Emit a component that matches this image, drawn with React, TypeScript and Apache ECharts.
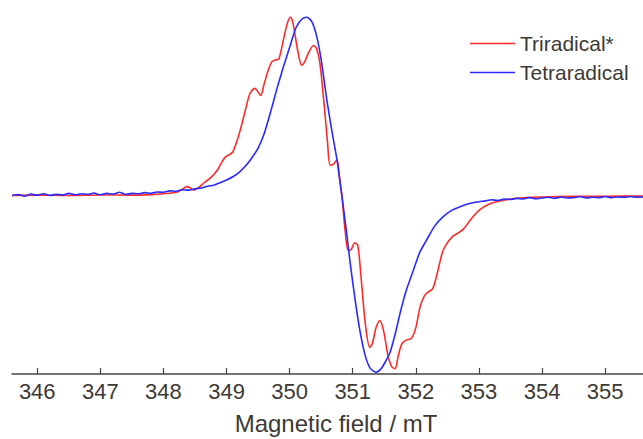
import React, { useEffect, useRef } from "react";
import * as echarts from "echarts";

const tickValues = [346, 347, 348, 349, 350, 351, 352, 353, 354, 355];
const seriesNames = ["Triradical*", "Tetraradical"];
const axisTitle = "Magnetic field / mT";

const redField = [
  345.6, 346.0, 346.5, 347.0, 347.5, 347.8, 348.0, 348.22, 348.3, 348.37, 348.43, 348.48, 348.56, 348.64,
  348.75, 348.85, 348.93, 348.98, 349.05, 349.1, 349.16, 349.22, 349.3, 349.37, 349.45, 349.5, 349.54,
  349.6, 349.66, 349.72, 349.78, 349.83, 349.9, 349.96, 350.01, 350.05, 350.09, 350.14, 350.19, 350.24,
  350.3, 350.38, 350.43, 350.48, 350.54, 350.6, 350.64, 350.69, 350.75, 350.79, 350.83, 350.88, 350.93,
  350.98, 351.03, 351.08, 351.13, 351.2, 351.27, 351.31, 351.37, 351.43, 351.49, 351.56, 351.62, 351.67,
  351.72, 351.78, 351.85, 351.93, 352.0, 352.07, 352.14, 352.2, 352.27, 352.35, 352.42, 352.49, 352.58,
  352.67, 352.75, 352.88, 353.01, 353.15, 353.28, 353.5, 353.8, 354.0, 354.5, 355.0, 355.6,
];
const redSignal = [
  0.0, 0.002, 0.0, 0.003, 0.002, 0.005, 0.01, 0.02, 0.035, 0.05, 0.042, 0.03, 0.045, 0.07,
  0.1, 0.14, 0.19, 0.215, 0.23, 0.245, 0.3, 0.37, 0.48, 0.57, 0.6, 0.58, 0.56,
  0.63, 0.7, 0.75, 0.76, 0.765, 0.87, 0.96, 1.0, 0.97, 0.89, 0.79, 0.73, 0.75,
  0.8, 0.84, 0.82, 0.74, 0.535, 0.3, 0.17, 0.175, 0.2, 0.1, -0.007, -0.2, -0.31,
  -0.3, -0.265, -0.28, -0.45, -0.72, -0.85, -0.83, -0.74, -0.7, -0.76, -0.9, -0.96, -0.97,
  -0.9, -0.83, -0.81, -0.8, -0.74, -0.62, -0.56, -0.54, -0.52, -0.42, -0.32, -0.27, -0.23,
  -0.21, -0.19, -0.13, -0.08, -0.05, -0.035, -0.02, -0.01, -0.008, -0.005, -0.004, -0.003,
];

const blueField = [
  345.6, 345.7, 345.8, 345.9, 346.0, 346.1, 346.2, 346.3, 346.4, 346.5, 346.6, 346.7, 346.8, 346.9,
  347.0, 347.1, 347.2, 347.3, 347.4, 347.5, 347.6, 347.7, 347.8, 347.9, 348.0, 348.1, 348.2, 348.3,
  348.4, 348.5, 348.6, 348.7, 348.8, 348.9, 349.0, 349.1, 349.2, 349.3, 349.4, 349.5, 349.6, 349.7,
  349.8, 349.9, 350.0, 350.1, 350.2, 350.27, 350.35, 350.43, 350.5, 350.59, 350.67, 350.75, 350.83,
  350.9, 350.96, 351.04, 351.12, 351.2, 351.28, 351.37, 351.45, 351.52, 351.59, 351.67, 351.75, 351.85,
  351.96, 352.06, 352.17, 352.3, 352.43, 352.56, 352.7, 352.85, 353.0, 353.1, 353.2, 353.3, 353.4,
  353.5, 353.6, 353.7, 353.8, 353.9, 354.0, 354.1, 354.2, 354.3, 354.4, 354.5, 354.6, 354.7, 354.8,
  354.9, 355.0, 355.1, 355.2, 355.3, 355.4, 355.5, 355.6,
];
const blueSignal = [
  0.0, 0.006, -0.004, 0.008, 0.002, 0.01, 0.0, 0.007, 0.003, 0.012, 0.004, 0.01, 0.006, 0.014,
  0.004, 0.012, 0.008, 0.018, 0.006, 0.012, 0.01, 0.016, 0.012, 0.02, 0.018, 0.026, 0.024, 0.032,
  0.03, 0.038, 0.042, 0.052, 0.058, 0.072, 0.087, 0.105, 0.13, 0.165, 0.21, 0.265, 0.35, 0.47,
  0.6, 0.72, 0.83, 0.94, 0.99, 1.0, 0.975, 0.89, 0.76, 0.535, 0.36, 0.2, -0.007,
  -0.2, -0.38, -0.59, -0.77, -0.9, -0.97, -0.99, -0.97, -0.93, -0.88, -0.78, -0.66, -0.53,
  -0.42, -0.32, -0.25, -0.17, -0.12, -0.085, -0.063, -0.045, -0.035, -0.03, -0.024, -0.028, -0.02,
  -0.022, -0.016, -0.02, -0.012, -0.018, -0.014, -0.01, -0.016, -0.008, -0.014, -0.012, -0.006, -0.014,
  -0.01, -0.012, -0.006, -0.012, -0.008, -0.01, -0.006, -0.01, -0.008,
];

const textColor = "#3d3935";
const redColor = "#ff2a2a";
const blueColor = "#2a2aff";

export default function App() {
  const ref = useRef<HTMLDivElement>(null);
  useEffect(() => {
    if (!ref.current) return;
    const chart = echarts.init(ref.current, undefined, { renderer: "svg" });
    const red = redField.map((x, i) => [x, redSignal[i]]);
    const blue = blueField.map((x, i) => [x, blueSignal[i]]);
    chart.setOption({
      animation: false,
      backgroundColor: "#ffffff",
      grid: { left: 12, right: 0, top: 17, bottom: 65, containLabel: false },
      xAxis: {
        type: "value",
        min: 345.6,
        max: 355.6,
        axisLine: { show: true, onZero: false, lineStyle: { color: "#444", width: 1.5 } },
        axisTick: {
          show: true,
          inside: true,
          length: 6,
          customValues: tickValues,
          lineStyle: { color: "#444", width: 1.2 },
        },
        axisLabel: {
          customValues: tickValues,
          color: textColor,
          fontSize: 22,
          fontFamily: "Liberation Sans, Arial, sans-serif",
          margin: 6,
        },
        splitLine: { show: false },
      },
      yAxis: {
        type: "value",
        min: -1,
        max: 1,
        show: false,
        splitLine: { show: false },
      },
      legend: {
        orient: "vertical",
        left: 465,
        top: 28,
        itemWidth: 45,
        itemHeight: 1.6,
        itemGap: 8,
        textStyle: {
          color: textColor,
          fontSize: 21,
          lineHeight: 20,
          fontFamily: "Liberation Sans, Arial, sans-serif",
        },
        data: [
          { name: seriesNames[0], icon: "rect", itemStyle: { color: redColor } },
          { name: seriesNames[1], icon: "rect", itemStyle: { color: blueColor } },
        ],
      },
      series: [
        {
          name: seriesNames[0],
          type: "line",
          data: red,
          symbol: "none",
          smooth: 0.3,
          lineStyle: { color: redColor, width: 1.6 },
          itemStyle: { color: redColor },
        },
        {
          name: seriesNames[1],
          type: "line",
          data: blue,
          symbol: "none",
          smooth: 0.2,
          lineStyle: { color: blueColor, width: 1.6 },
          itemStyle: { color: blueColor },
        },
      ],
      graphic: [
        {
          type: "text",
          x: 336,
          y: 423,
          style: {
            text: axisTitle,
            fill: textColor,
            fontSize: 24,
            fontFamily: "Liberation Sans, Arial, sans-serif",
            align: "center",
            verticalAlign: "middle",
          },
        },
      ],
    });
    return () => chart.dispose();
  }, []);
  return <div ref={ref} style={{ width: 643, height: 439, position: "absolute", left: 0, top: 0 }} />;
}
